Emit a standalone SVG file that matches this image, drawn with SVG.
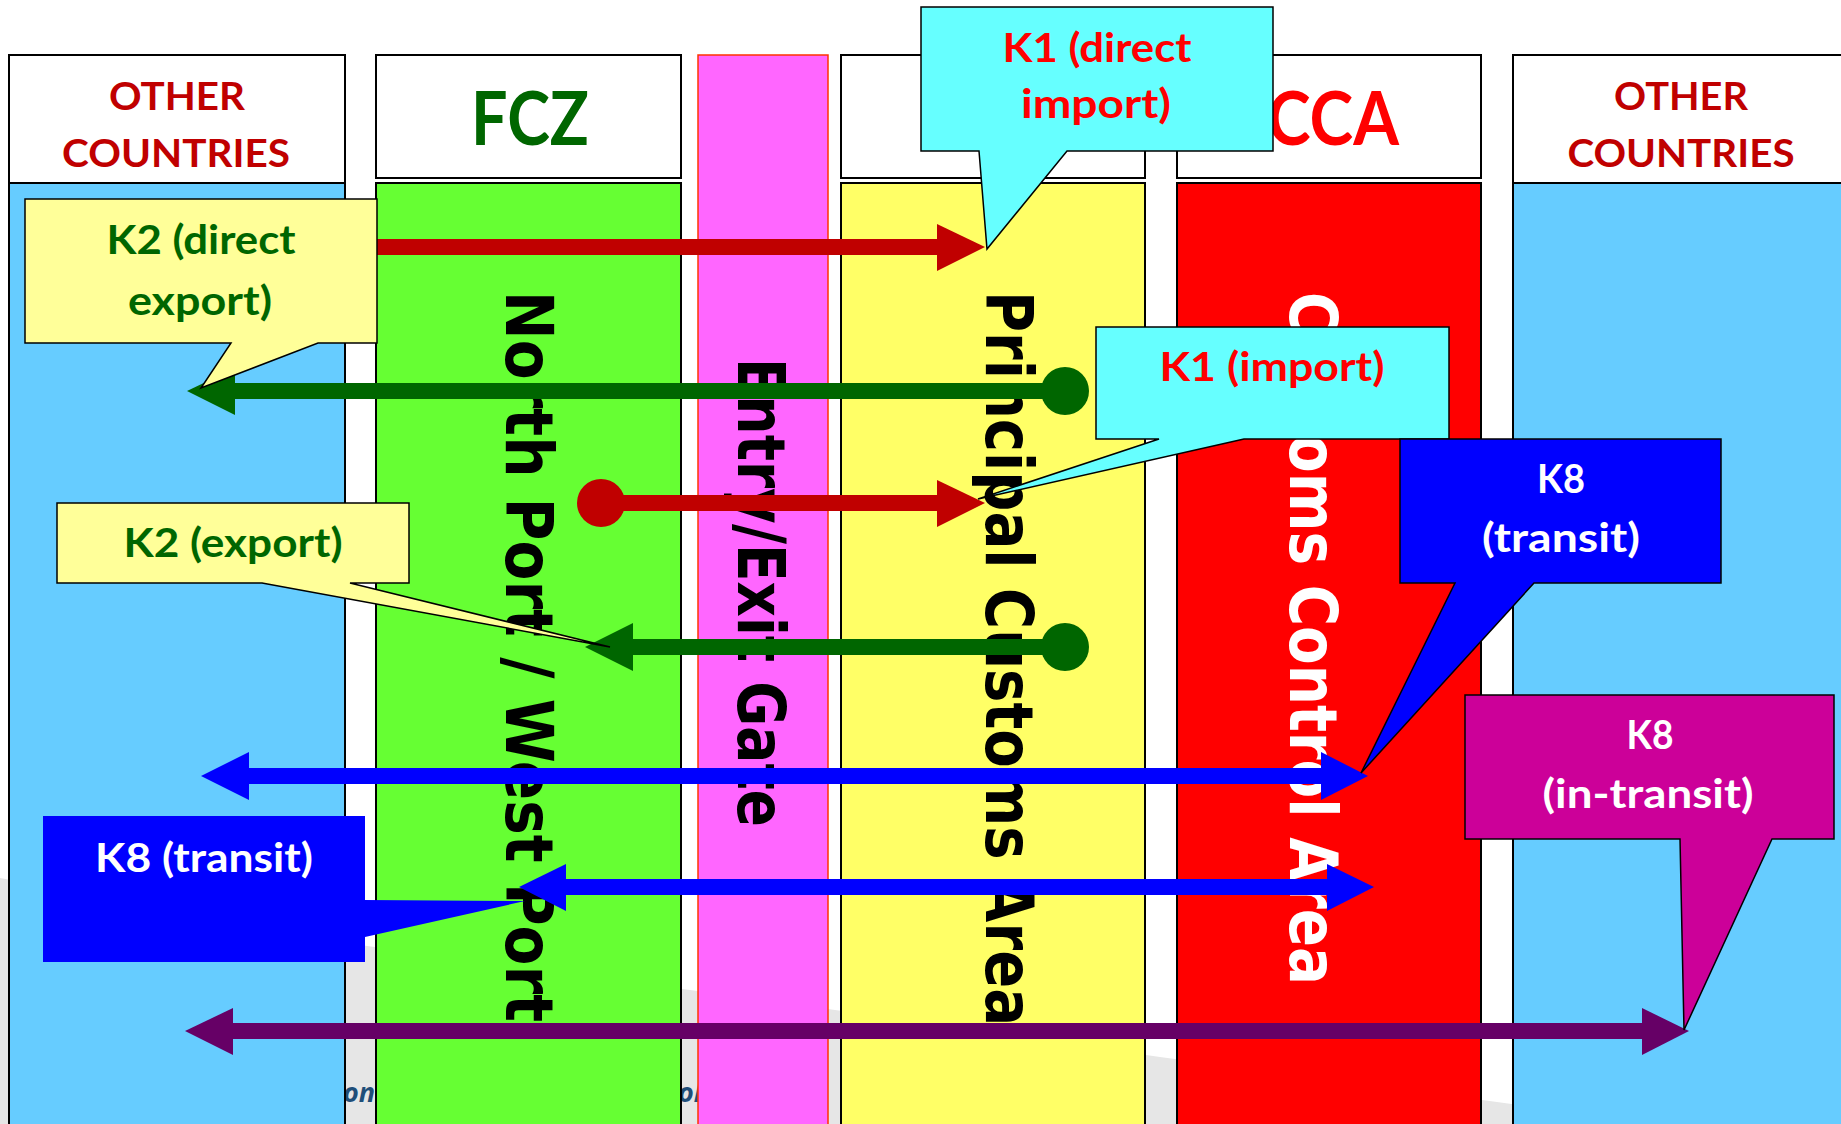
<svg xmlns="http://www.w3.org/2000/svg" width="1841" height="1124" viewBox="0 0 1841 1124">
<style>
.col{stroke:#000;stroke-width:2}
.hdr{fill:#fff;stroke:#000;stroke-width:2}
.hd{font-family:Lato,"Liberation Sans",sans-serif;font-weight:bold;text-anchor:middle}
.vt{font-family:"DejaVu Sans",Verdana,sans-serif;font-weight:bold;font-size:65px}
.co{stroke:#000;stroke-width:1.5}
.ct{font-family:Lato,"Liberation Sans",sans-serif;font-weight:bold;font-size:40px;text-anchor:middle}
.ft{font-family:"Open Sans","Liberation Sans",sans-serif;font-style:italic;font-weight:bold;font-size:27px;fill:#1F4E79}
.red{fill:#C00000}
.grn{fill:#006600}
.blu{fill:#0000FF}
.pur{fill:#660066}
</style>
<rect x="0" y="0" width="1841" height="1124" fill="#fff"/>
<path d="M0,878 L360,945 L690,990 L835,1010 L1160,1057 L1497,1102 L1841,1150 L1841,1124 L0,1124 Z" fill="#E6E6E6"/>
<text class="ft" x="343" y="1102">on</text>
<text class="ft" x="678" y="1102">ol</text>

<g id="other-countries-left">
<rect class="col" x="9" y="183" width="336" height="960" fill="#66CCFF"/>
<rect class="hdr" x="9" y="55" width="336" height="128"/>
<text class="hd" x="177" y="110" font-size="39" fill="#C00000" textLength="136" lengthAdjust="spacingAndGlyphs">OTHER</text>
<text class="hd" x="176" y="167" font-size="39" fill="#C00000" textLength="228" lengthAdjust="spacingAndGlyphs">COUNTRIES</text>
</g>
<g id="fcz">
<rect class="col" x="376" y="183" width="305" height="960" fill="#66FF33"/>
<rect class="hdr" x="376" y="55" width="305" height="123"/>
<text class="hd" x="530" y="145" font-size="75" fill="#006600" textLength="118" lengthAdjust="spacingAndGlyphs">FCZ</text>
<text class="vt" transform="translate(506,291) rotate(90)" x="0" y="0" fill="#000" textLength="731" lengthAdjust="spacingAndGlyphs">North Port / West Port</text>
</g>
<g id="entry-exit-gate">
<rect x="698" y="55" width="130" height="1090" fill="#FF66FF" stroke="#FF3300" stroke-width="1.5"/>
<text class="vt" transform="translate(738,358) rotate(90)" x="0" y="0" fill="#000" textLength="469" lengthAdjust="spacingAndGlyphs">Entry/Exit Gate</text>
</g>
<g id="principal-customs-area">
<rect class="col" x="841" y="183" width="304" height="960" fill="#FFFF66"/>
<rect class="hdr" x="841" y="55" width="304" height="123"/>
<text class="vt" transform="translate(986,291) rotate(90)" x="0" y="0" fill="#000" textLength="735" lengthAdjust="spacingAndGlyphs">Principal Customs Area</text>
</g>
<g id="customs-control-area">
<rect class="col" x="1177" y="183" width="304" height="960" fill="#FF0000"/>
<rect class="hdr" x="1177" y="55" width="304" height="123"/>
<text class="hd" x="1333" y="145" font-size="75" fill="#FF0000" textLength="132" lengthAdjust="spacingAndGlyphs">CCA</text>
<text class="vt" transform="translate(1290,292) rotate(90)" x="0" y="0" fill="#fff" textLength="693" lengthAdjust="spacingAndGlyphs">Customs Control Area</text>
</g>
<g id="other-countries-right">
<rect class="col" x="1513" y="183" width="340" height="960" fill="#66CCFF"/>
<rect class="hdr" x="1513" y="55" width="340" height="128"/>
<text class="hd" x="1681" y="110" font-size="39" fill="#C00000" textLength="134" lengthAdjust="spacingAndGlyphs">OTHER</text>
<text class="hd" x="1681" y="167" font-size="39" fill="#C00000" textLength="227" lengthAdjust="spacingAndGlyphs">COUNTRIES</text>
</g>

<g id="connectors">
<g id="k1-direct-import-arrow" class="red">
<rect x="377" y="239" width="560" height="16"/>
<polygon points="937,224 985,247 937,271"/>
</g>
<g id="k2-direct-export-arrow" class="grn">
<rect x="233" y="383" width="832" height="16"/>
<polygon points="235,368 187,391 235,415"/>
<circle cx="1065" cy="391" r="24"/>
</g>
<g id="k1-import-arrow" class="red">
<circle cx="601" cy="503" r="24"/>
<rect x="601" y="495" width="336" height="16"/>
<polygon points="937,480 985,503 937,527"/>
</g>
<g id="k2-export-arrow" class="grn">
<circle cx="1065" cy="647" r="24"/>
<rect x="633" y="639" width="432" height="16"/>
<polygon points="633,623 585,647 633,671"/>
</g>
<g id="k8-transit-arrow-1" class="blu">
<rect x="249" y="768" width="1072" height="16"/>
<polygon points="249,752 201,776 249,800"/>
<polygon points="1321,752 1368,776 1321,800"/>
</g>
<g id="k8-transit-arrow-2" class="blu">
<rect x="566" y="879" width="761" height="16"/>
<polygon points="566,864 519,887 566,911"/>
<polygon points="1327,864 1374,887 1327,911"/>
</g>
<g id="k8-in-transit-arrow" class="pur">
<rect x="233" y="1023" width="1409" height="16"/>
<polygon points="233,1008 185,1031 233,1055"/>
<polygon points="1642,1008 1689,1031 1642,1055"/>
</g>
</g>

<g id="callout-k1-direct-import">
<path class="co" d="M921,7 H1273 V151 H1067 L987,249 L979,151 H921 Z" fill="#66FFFF"/>
<text class="ct" x="1097" y="62" fill="#FF0000" textLength="189" lengthAdjust="spacingAndGlyphs">K1 (direct</text>
<text class="ct" x="1096" y="118" fill="#FF0000" textLength="150" lengthAdjust="spacingAndGlyphs">import)</text>
</g>
<g id="callout-k1-import">
<path class="co" d="M1096,327 H1449 V439 H1244 L978,499 L1159,439 H1096 Z" fill="#66FFFF"/>
<text class="ct" x="1272" y="381" fill="#FF0000" textLength="225" lengthAdjust="spacingAndGlyphs">K1 (import)</text>
</g>
<g id="callout-k2-direct-export">
<path class="co" d="M25,199 H377 V343 H318 L201,388 L231,343 H25 Z" fill="#FFFF99"/>
<text class="ct" x="201" y="254" fill="#006600" textLength="189" lengthAdjust="spacingAndGlyphs">K2 (direct</text>
<text class="ct" x="200" y="315" fill="#006600" textLength="144" lengthAdjust="spacingAndGlyphs">export)</text>
</g>
<g id="callout-k2-export">
<path class="co" d="M57,503 H409 V583 H350 L610,647 L262,583 H57 Z" fill="#FFFF99"/>
<text class="ct" x="233" y="557" fill="#006600" textLength="219" lengthAdjust="spacingAndGlyphs">K2 (export)</text>
</g>
<g id="callout-k8-transit-left">
<path d="M43,816 H365 V900 L525,901 L365,937 V962 H43 Z" fill="#0000FF"/>
<text class="ct" x="204" y="872" fill="#fff" textLength="218" lengthAdjust="spacingAndGlyphs">K8 (transit)</text>
</g>
<g id="callout-k8-transit-right">
<path class="co" d="M1400,439 H1721 V583 H1534 L1361,773 L1455,583 H1400 Z" fill="#0000FF"/>
<text class="ct" x="1561" y="493" fill="#fff" textLength="48" lengthAdjust="spacingAndGlyphs">K8</text>
<text class="ct" x="1561" y="552" fill="#fff" textLength="158" lengthAdjust="spacingAndGlyphs">(transit)</text>
</g>
<g id="callout-k8-in-transit">
<path class="co" d="M1465,695 H1834 V839 H1772 L1684,1030 L1680,839 H1465 Z" fill="#CC0099"/>
<text class="ct" x="1650" y="749" fill="#fff" textLength="47" lengthAdjust="spacingAndGlyphs">K8</text>
<text class="ct" x="1648" y="808" fill="#fff" textLength="211" lengthAdjust="spacingAndGlyphs">(in-transit)</text>
</g>
</svg>
